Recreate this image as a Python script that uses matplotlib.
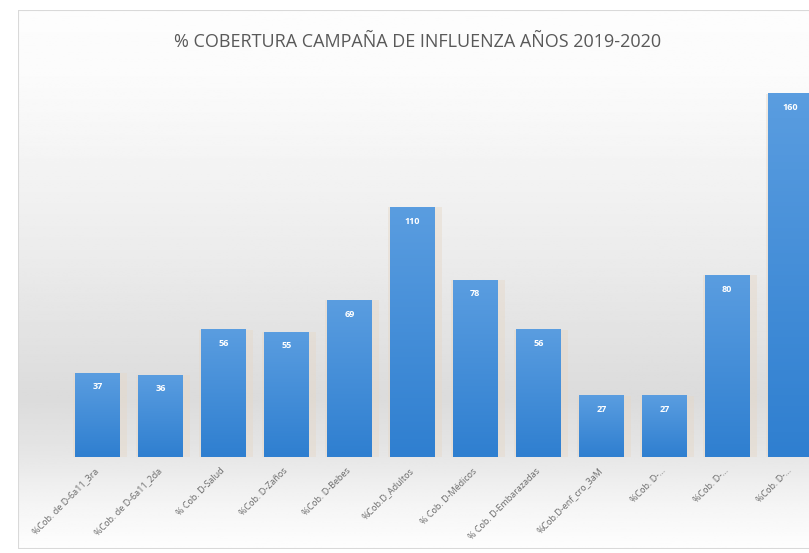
# % cobertura campaña de influenza 2019-2020 (bar chart)
import matplotlib
matplotlib.use('Agg')
import matplotlib.pyplot as plt
import numpy as np
from matplotlib.patches import Rectangle

categories = ['%Cob. de D-6a11_3ra', '%Cob. de D-6a11_2da', '% Cob. D-Salud',
              '%Cob. D-Zaños', '%Cob. D-Bebes', '%Cob.D_Adultos',
              '% Cob. D-Médicos', '% Cob. D-Embarazadas', '%Cob.D-enf_cro_3aM',
              '%Cob. D-...', '%Cob. D-...', '%Cob. D-...']
values = [37, 36, 56, 55, 69, 110, 78, 56, 27, 27, 80, 160]

plt.rcParams['font.family'] = ['Open Sans', 'DejaVu Sans']

fig = plt.figure(figsize=(8.09, 5.53), dpi=100)
W, H = 809.0, 553.0

# background panel with soft grey gradient
bg = fig.add_axes([18 / W, 4 / H, 1, 539 / H])
stops = np.interp(np.linspace(0, 1, 300), [0, 0.12, 0.45, 0.72, 0.82, 0.92, 1.0],
                  [0.99, 0.985, 0.925, 0.86, 0.9, 0.96, 0.995])
bg.imshow(np.repeat(stops[:, None], 2, axis=1), cmap='gray', vmin=0, vmax=1,
          aspect='auto', extent=[0, 1, 0, 1])
bg.add_patch(Rectangle((0, 0), 1, 1, transform=bg.transAxes, fill=False,
                       edgecolor='#d9d9d9', lw=1.5))
bg.set_axis_off()

ax = fig.add_axes([18 / W, 96 / H, 822 / W, 447 / H])
ax.patch.set_alpha(0)
x = np.arange(len(values))

# soft halo behind the bars
ax.bar(x + 0.04, values, width=0.86, color='#e6d8c8', alpha=0.45, zorder=1)
bars = ax.bar(x, values, width=0.71, color='#3f88d3', zorder=2)

# vertical gradient inside each bar
grad = np.linspace(0, 1, 100)[:, None]
cmap = matplotlib.colors.LinearSegmentedColormap.from_list('b', ['#2f7fd0', '#5a9de0'])
for b in bars:
    ax.imshow(grad, cmap=cmap, aspect='auto', zorder=3, origin='lower',
              extent=[b.get_x(), b.get_x() + b.get_width(), 0, b.get_height()])

for xi, v in zip(x, values):
    ax.text(xi, v - 6, str(v), ha='center', va='center', color='white',
            fontsize=6.5, fontweight='bold', zorder=4)

ax.set_xlim(-1.262, 11.79)
ax.set_ylim(0, 197)
ax.set_yticks([])
ax.set_xticks(x)
ax.set_xticklabels(categories, rotation=45, ha='right', va='center',
                   rotation_mode='anchor', fontsize=6.5, color='#6a6a6a')
ax.tick_params(axis='x', length=0, pad=9)
for s in ax.spines.values():
    s.set_visible(False)

fig.text(418 / W, 1 - 42 / H, '% COBERTURA CAMPAÑA DE INFLUENZA AÑOS 2019-2020',
         ha='center', va='center', fontsize=13, color='#595959')

fig.savefig('out.png', dpi=100)
